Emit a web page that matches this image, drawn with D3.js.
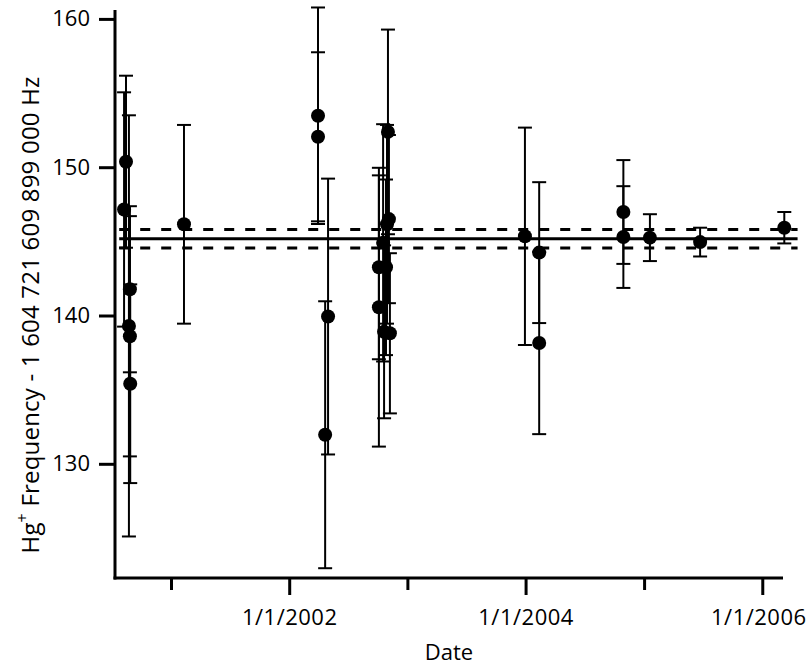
<!DOCTYPE html>
<html><head><meta charset="utf-8">
<script src="https://cdn.jsdelivr.net/npm/d3@7"></script>
<style>
body{margin:0;background:#fff;}
text{font-family:"Open Sans",sans-serif;fill:#000;}
</style>
</head><body>
<svg id="c" width="810" height="668"></svg>
<script>
// ---- data ----
const dates = ["2000-08-15","2000-08-09","2000-08-27","2000-08-24","2000-08-27","2000-08-28",
  "2001-02-10",
  "2002-03-31","2002-03-31","2002-05-01","2002-04-22",
  "2002-11-02","2002-11-05","2002-10-30","2002-10-18","2002-10-05","2002-10-27","2002-10-05","2002-10-21","2002-11-08",
  "2003-12-30","2004-02-12","2004-02-12","2004-10-29","2004-10-29","2005-01-19","2005-06-23","2006-03-10"];
const values = [150.37,147.15,141.77,139.3,138.6,135.4,
  146.15,
  153.47,152.05,139.93,131.96,
  152.38,146.5,146.15,144.9,143.25,143.25,140.56,138.9,138.8,
  145.34,144.24,138.15,146.98,145.29,145.25,144.95,145.92];
const errors = [5.8,7.9,5.6,14.2,8.1,6.7,
  6.7,
  7.3,5.7,9.3,9.0,
  6.9,5.67,6.7,8.0,6.2,5.92,9.4,5.83,5.4,
  7.33,4.75,6.15,3.5,3.43,1.58,0.97,1.06];
const meanValue = 145.17;
const meanBand = [144.56, 145.80];
const meanSpan = ["2000-07-25","2006-04-20"];
const yTicks = [130,140,150,160];
const xTickYears = [2001,2002,2003,2004,2005,2006];
const labeledYears = [2002,2004,2006];
const xDomain = ["2000-07-12","2006-03-06"];
const yDomain = [122.3,160.6];

const parse = d3.timeParse("%Y-%m-%d");
const svg = d3.select("#c");
const x = d3.scaleTime().domain(xDomain.map(parse)).range([115,783]);
const y = d3.scaleLinear().domain(yDomain).range([578,10]);

const pts = dates.map((d,i)=>({date:parse(d),v:values[i],e:errors[i]}));

// mean + band lines
const span = meanSpan.map(parse);
svg.append("line").attr("x1",x(span[0])).attr("x2",x(span[1]))
  .attr("y1",y(meanValue)).attr("y2",y(meanValue))
  .attr("stroke","#000").attr("stroke-width",3);
meanBand.forEach(b=>{
  svg.append("line").attr("x1",x(span[0])).attr("x2",x(span[1]))
    .attr("y1",y(b)).attr("y2",y(b))
    .attr("stroke","#000").attr("stroke-width",3).attr("stroke-dasharray","10,11");
});

// error bars
const g = svg.append("g").attr("stroke","#000").attr("stroke-width",2);
pts.forEach(p=>{
  const cx = x(p.date);
  g.append("line").attr("x1",cx).attr("x2",cx).attr("y1",y(p.v+p.e)).attr("y2",y(p.v-p.e));
  [p.v+p.e,p.v-p.e].forEach(v=>{
    g.append("line").attr("x1",cx-7).attr("x2",cx+7).attr("y1",y(v)).attr("y2",y(v));
  });
});
// points
svg.append("g").selectAll("circle").data(pts).join("circle")
  .attr("cx",d=>x(d.date)).attr("cy",d=>y(d.v)).attr("r",7).attr("fill","#000");

// y axis
const ya = svg.append("g").attr("transform","translate(115,0)")
  .call(d3.axisLeft(y).tickValues(yTicks).tickSize(16).tickPadding(9).tickFormat(d3.format("d")));
ya.select(".domain").remove();
ya.selectAll(".tick line").attr("stroke","#000").attr("stroke-width",3);
ya.selectAll(".tick text").attr("font-size",22).attr("font-family","Open Sans").attr("fill","#000");
svg.append("line").attr("x1",115).attr("x2",115).attr("y1",10).attr("y2",579.5)
  .attr("stroke","#000").attr("stroke-width",3);

// x axis
const tickDates = xTickYears.map(yr=>new Date(yr,0,1));
const xa = svg.append("g").attr("transform","translate(0,578)")
  .call(d3.axisBottom(x).tickValues(tickDates).tickSize(17).tickPadding(14)
    .tickFormat(d=>labeledYears.includes(d.getFullYear())?"1/1/"+d.getFullYear():""));
xa.select(".domain").remove();
xa.selectAll(".tick line").attr("stroke","#000").attr("stroke-width",3)
  .attr("y2",d=>labeledYears.includes(d.getFullYear())?17:12);
xa.selectAll(".tick text").attr("font-size",22).attr("letter-spacing",0.5)
  .attr("font-family","Open Sans").attr("fill","#000")
  .attr("dx",d=>d.getFullYear()===2006?-4:0);
svg.append("line").attr("x1",113.5).attr("x2",783).attr("y1",578).attr("y2",578)
  .attr("stroke","#000").attr("stroke-width",3);

// titles
svg.append("text").attr("x",449).attr("y",660).attr("text-anchor","middle")
  .attr("font-size",22).text("Date");
const yt = svg.append("text").attr("transform","translate(39,315) rotate(-90)")
  .attr("text-anchor","middle").attr("font-size",24).attr("letter-spacing",0.2);
yt.append("tspan").text("Hg");
yt.append("tspan").attr("font-size",16).attr("dy",-11).text("+");
yt.append("tspan").attr("dy",11).text(" Frequency - 1 604 721 609 899 000 Hz");
</script>
</body></html>
